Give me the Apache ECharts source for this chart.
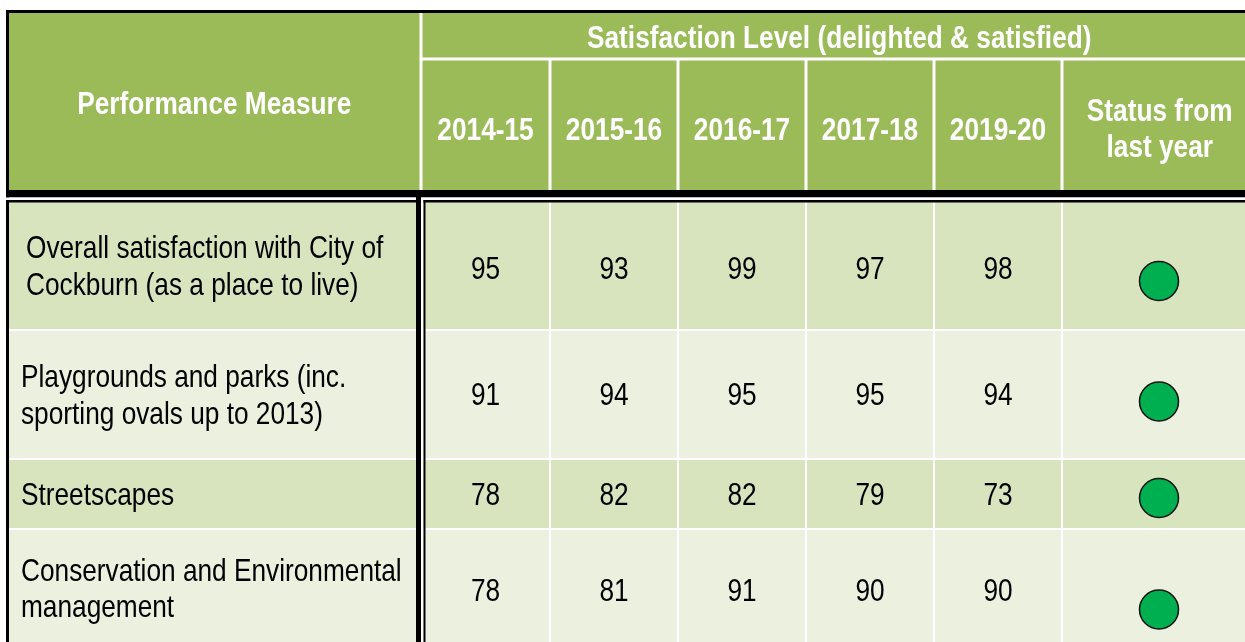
<!DOCTYPE html>
<html>
<head>
<meta charset="utf-8">
<title>Satisfaction Level</title>
<script src="https://cdn.jsdelivr.net/npm/echarts@6.0.0/dist/echarts.min.js"></script>
<style>
    html, body { margin: 0; padding: 0; background: #fff; }
    #main { width: 1245px; height: 642px; }
</style>
</head>
<body>
<div id="main"></div>
<script>
// ---- data ----
const measureTitle = "Performance Measure";
const groupTitle = "Satisfaction Level (delighted & satisfied)";
const statusTitle = "Status from\nlast year";
const periods = ["2014-15", "2015-16", "2016-17", "2017-18", "2019-20"];
const measures = [
    "Overall satisfaction with City of\nCockburn (as a place to live)",
    "Playgrounds and parks (inc.\nsporting ovals up to 2013)",
    "Streetscapes",
    "Conservation and Environmental\nmanagement",
];
const overall = [95, 93, 99, 97, 98];
const playgrounds = [91, 94, 95, 95, 94];
const streetscapes = [78, 82, 82, 79, 73];
const conservation = [78, 81, 91, 90, 90];
const status = ["up", "up", "up", "up"];

// ---- layout (pixel units, axes run 0..1245 and 0..642) ----
const W = 1245, H = 642;
const colEdges = [9, 421, 550, 678, 806, 934, 1062, 1256];
const rowEdges = [13, 59, 190, 202, 330, 459, 529, 650];
const outerCols = [0, 7];
const outerRows = [0, 2, 3, 7];
const textIndent = [17, 12, 12, 12];
const statusDy = [15, 7, 4, 20];
const FONT_SIZE = 32;

const HEAD = "#9bbb59", DARK = "#d7e4bd", LIGHT = "#ebf1de";
const statusColor = { up: "#00b050" };

// narrow font if it is there, otherwise squeeze the regular one
const hasFont = name => {
    const ctx = document.createElement("canvas").getContext("2d");
    const s = "Conservation and Environmental";
    ctx.font = "40px monospace";
    const a = ctx.measureText(s).width;
    ctx.font = `40px "${name}", monospace`;
    return ctx.measureText(s).width !== a;
};
const narrow = hasFont("Liberation Sans Narrow");
const FAMILY = narrow ? '"Liberation Sans Narrow"' : '"Liberation Sans", Arial';
const SX = narrow ? 1 : 0.82;

// ---- cells ----
const rows = [overall, playgrounds, streetscapes, conservation];
const cells = [];
cells.push({ c: [0, 1], r: [0, 2], fill: HEAD, head: true, text: measureTitle, dy: 4 });
cells.push({ c: [1, 7], r: [0, 1], fill: HEAD, head: true, text: groupTitle, dy: 4 });
periods.forEach((p, i) => {
    cells.push({ c: [1 + i, 2 + i], r: [1, 2], fill: HEAD, head: true, text: p, dy: 6 });
});
cells.push({ c: [6, 7], r: [1, 2], fill: HEAD, head: true, text: statusTitle, dy: 5 });
rows.forEach((vals, j) => {
    const fill = j % 2 ? LIGHT : DARK;
    cells.push({ c: [0, 1], r: [3 + j, 4 + j], fill, text: measures[j], indent: textIndent[j], dy: j === 3 ? 0 : 2 });
    vals.forEach((v, i) => {
        cells.push({ c: [1 + i, 2 + i], r: [3 + j, 4 + j], fill, text: String(v), dy: j === 0 ? 5 : 2 });
    });
    cells.push({ c: [6, 7], r: [3 + j, 4 + j], fill, text: "" });
});

const renderCell = (params, api) => {
    const cell = cells[params.dataIndex];
    const h = cell.head ? 1.5 : 1;
    const c0 = api.value(0), c1 = api.value(1), r0 = api.value(2), r1 = api.value(3);
    const x0 = colEdges[c0] + (outerCols.includes(c0) ? 0 : h);
    const x1 = colEdges[c1] - (outerCols.includes(c1) ? 0 : h);
    const y0 = rowEdges[r0] + (outerRows.includes(r0) ? 0 : h);
    const y1 = rowEdges[r1] - (outerRows.includes(r1) ? 0 : h);
    const p0 = api.coord([x0, y0]);
    const p1 = api.coord([x1, y1]);
    const children = [{
        type: "rect",
        shape: { x: p0[0], y: p0[1], width: p1[0] - p0[0], height: p1[1] - p0[1] },
        style: { fill: cell.fill },
    }];
    if (cell.text) {
        const lines = cell.text.split("\n").length;
        const left = cell.indent !== undefined;
        children.push({
            type: "text",
            x: left ? p0[0] + cell.indent : (p0[0] + p1[0]) / 2,
            y: (p0[1] + p1[1]) / 2 + (cell.dy || 0),
            scaleX: SX,
            style: {
                text: cell.text,
                fill: cell.head ? "#fff" : "#000",
                font: `${cell.head ? "bold " : ""}${FONT_SIZE}px ${FAMILY}`,
                align: left ? "left" : "center",
                verticalAlign: "middle",
                lineHeight: lines > 1 ? 36.5 : FONT_SIZE,
            },
        });
    }
    return { type: "group", children };
};

// black rules round the header and the first column
const frameRects = [
    [6, 10, W, 13, "#000"],
    [6, 10, 9, H, "#000"],
    [6, 190, W, 197.5, "#000"],
    [6, 197.5, W, 200, "#fff"],
    [6, 200, W, 202.5, "#000"],
    [416, 190, 421, H, "#000"],
    [421, 200, 423.5, H, "#fff"],
    [423.5, 200, 425.5, H, "#000"],
];
const renderFrame = (params, api) => ({
    type: "group",
    children: frameRects.map(([a, b, c, d, color]) => {
        const p0 = api.coord([a, b]);
        const p1 = api.coord([c, d]);
        return {
            type: "rect",
            shape: { x: p0[0], y: p0[1], width: p1[0] - p0[0], height: p1[1] - p0[1] },
            style: { fill: color },
        };
    }),
});

const renderStatus = (params, api) => {
    const j = params.dataIndex;
    const c = api.value(0), r = api.value(1);
    const p = api.coord([(colEdges[c] + colEdges[c + 1]) / 2, (rowEdges[r] + rowEdges[r + 1]) / 2 + statusDy[j]]);
    return {
        type: "circle",
        shape: { cx: p[0], cy: p[1], r: 19.5 },
        style: { fill: statusColor[status[j]], stroke: "#111", lineWidth: 1.5 },
    };
};

const chart = echarts.init(document.getElementById("main"), null, { renderer: "canvas" });
chart.setOption({
    animation: false,
    grid: { left: 0, right: 0, top: 0, bottom: 0 },
    xAxis: { type: "value", min: 0, max: W, show: false },
    yAxis: { type: "value", min: 0, max: H, inverse: true, show: false },
    series: [
        {
            type: "custom",
            renderItem: renderCell,
            data: cells.map(g => [g.c[0], g.c[1], g.r[0], g.r[1]]),
            z: 1,
            silent: true,
        },
        {
            type: "custom",
            renderItem: renderFrame,
            data: [[0, 0]],
            z: 2,
            silent: true,
        },
        {
            type: "custom",
            renderItem: renderStatus,
            data: status.map((s, j) => [6, 3 + j]),
            z: 3,
            silent: true,
        },
    ],
});
</script>
</body>
</html>
